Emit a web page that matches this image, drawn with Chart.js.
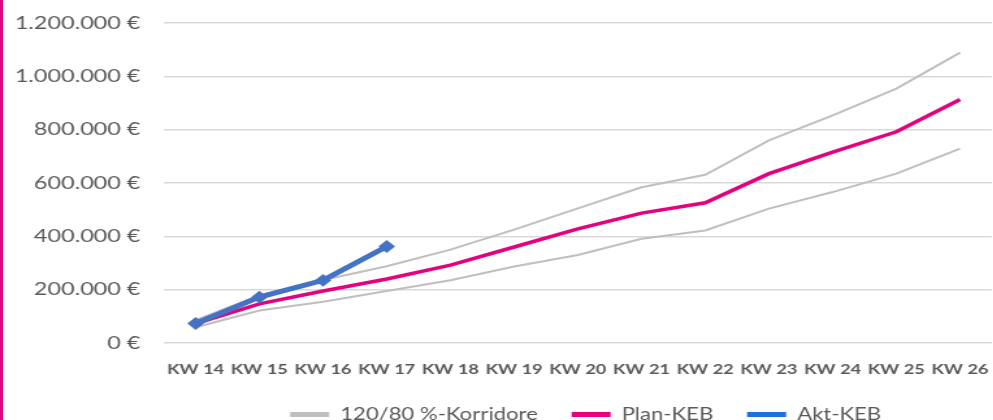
<!DOCTYPE html>
<html>
<head>
<meta charset="utf-8">
<script src="https://cdn.jsdelivr.net/npm/chart.js@4/dist/chart.umd.min.js"></script>
<style>
  html, body { margin: 0; padding: 0; background: #fff; overflow: hidden; width: 993px; height: 420px; }
  #stage { position: absolute; left: 0; top: 0; width: 770px; height: 433px; transform: scaleX(1.3); transform-origin: 0 0; }
  #c { display: block; width: 770px; height: 433px; }
  #edge { position: absolute; left: 0; top: 0; width: 3px; height: 420px; background: #e0077d; }
</style>
</head>
<body>
<div id="stage"><canvas id="c" width="770" height="433"></canvas></div>
<div id="edge"></div>
<script>
// Calendar weeks on the x axis
const weeks = ['KW 14', 'KW 15', 'KW 16', 'KW 17', 'KW 18', 'KW 19', 'KW 20',
               'KW 21', 'KW 22', 'KW 23', 'KW 24', 'KW 25', 'KW 26'];

// Planned cumulative KEB (EUR)
const planKEB = [73000, 147000, 195000, 240000, 292000, 360000, 428000,
                 487000, 526000, 635000, 716000, 792000, 913000];

// Upper (120 %) and lower (80 %) corridor (EUR)
const corridorUpper = [86000, 178000, 236000, 288000, 350000, 425000, 505000,
                       584000, 631000, 760000, 854000, 954000, 1089000];
const corridorLower = [59000, 122000, 155000, 195000, 235000, 287000, 330000,
                       391000, 422000, 504000, 566000, 635000, 729000];

// Actual KEB so far (EUR)
const aktKEB = [73000, 172000, 235000, 362000];

// Y axis range and step
const yMin = 0, yMax = 1200000, yStep = 200000;

const C_GREY = '#bfbfbf', C_PINK = '#e6007e', C_BLUE = '#4472c4', C_BLUE_KEY = '#1f6fe5';
const TXT = '#595959';
const FONT = 'Lato, "Open Sans", sans-serif';

function euro(v) {
  return String(v).replace(/\B(?=(\d{3})+(?!\d))/g, '.') + ' €';
}

// Center the legend under the plot area instead of the whole canvas
const legendOnPlot = {
  id: 'legendOnPlot',
  afterLayout(chart) {
    const lg = chart.legend, a = chart.chartArea;
    if (!lg || !a) return;
    lg.left = a.left + 12;
    lg.right = a.right;
    lg.width = lg.right - lg.left;
  }
};

new Chart(document.getElementById('c'), {
  type: 'line',
  data: {
    labels: weeks,
    datasets: [
      { label: '120/80 %-Korridore', data: corridorUpper, borderColor: C_GREY, backgroundColor: C_GREY,
        borderWidth: 2, pointRadius: 0, order: 3 },
      { label: '80 %-Korridor', data: corridorLower, borderColor: C_GREY, backgroundColor: C_GREY,
        borderWidth: 2, pointRadius: 0, order: 3 },
      { label: 'Plan-KEB', data: planKEB, borderColor: C_PINK, backgroundColor: C_PINK,
        borderWidth: 3.5, pointRadius: 0, order: 2 },
      { label: 'Akt-KEB', data: aktKEB, borderColor: C_BLUE, backgroundColor: C_BLUE,
        borderWidth: 5, pointStyle: 'rectRot', pointRadius: 5, pointBorderWidth: 2, order: 1 }
    ]
  },
  options: {
    responsive: false,
    animation: false,
    devicePixelRatio: 1,
    layout: { padding: { top: 23, right: 5, left: 0, bottom: 0 } },
    plugins: {
      tooltip: { enabled: false },
      legend: {
        position: 'bottom',
        labels: {
          color: TXT,
          font: { family: FONT, size: 17 },
          boxWidth: 30,
          boxHeight: 5,
          padding: 26,
          sort: (a, b) => a.datasetIndex - b.datasetIndex,
          filter: (item) => item.datasetIndex !== 1,
          generateLabels(chart) {
            const items = Chart.defaults.plugins.legend.labels.generateLabels(chart);
            items.forEach(it => {
              const ds = chart.data.datasets[it.datasetIndex];
              it.fillStyle = ds.label === 'Akt-KEB' ? C_BLUE_KEY : ds.borderColor;
              it.strokeStyle = it.fillStyle;
              it.lineWidth = 0;
            });
            return items;
          }
        }
      }
    },
    scales: {
      x: {
        offset: true,
        grid: { display: false, drawTicks: false },
        border: { display: false },
        ticks: { color: TXT, font: { family: FONT, size: 14, weight: 'bold' }, padding: 18, maxRotation: 0, autoSkip: false },
        afterFit(scale) { scale.height = 37; scale.paddingLeft = 0; scale.paddingRight = 0; }
      },
      y: {
        min: yMin, max: yMax,
        border: { display: false },
        grid: { color: '#d9d9d9', lineWidth: 1.5, drawTicks: false },
        ticks: { stepSize: yStep, color: TXT, font: { family: FONT, size: 18 }, padding: 18, callback: (v) => euro(v) },
        afterFit(scale) { scale.width = 126; scale.paddingTop = 0; scale.paddingBottom = 0; }
      }
    }
  },
  plugins: [legendOnPlot]
});
</script>
</body>
</html>
